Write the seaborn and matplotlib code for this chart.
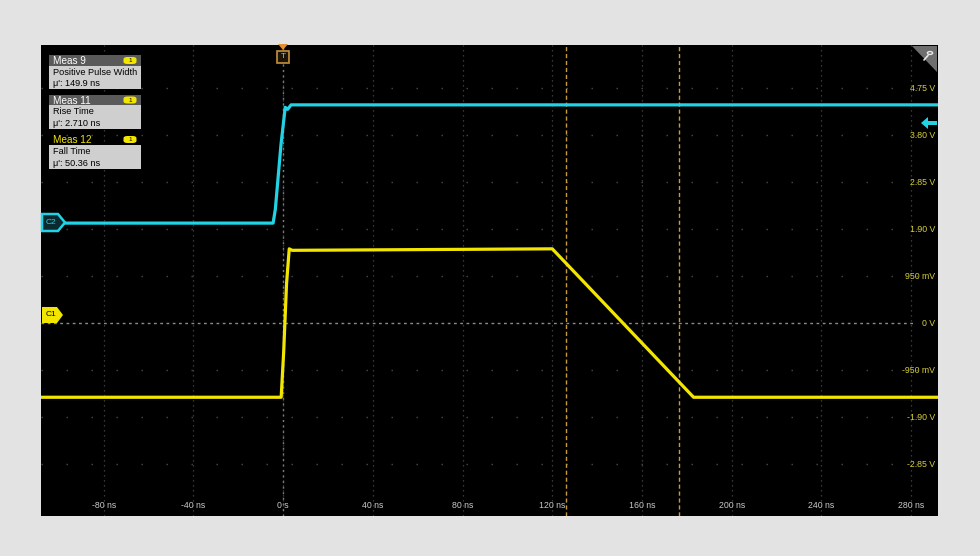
import numpy as np
import pandas as pd
import seaborn as sns
import matplotlib.pyplot as plt
from matplotlib.patches import Rectangle, Polygon, FancyBboxPatch, Circle
from matplotlib.lines import Line2D
import matplotlib.transforms as mtransforms

x_ticks = [-80, -40, 0, 40, 80, 120, 160, 200, 240, 280]
x_labels = ["-80 ns", "-40 ns", "0 s", "40 ns", "80 ns", "120 ns", "160 ns", "200 ns", "240 ns", "280 ns"]
y_ticks = [4.75, 3.80, 2.85, 1.90, 0.95, 0.0, -0.95, -1.90, -2.85]
y_labels = ["4.75 V", "3.80 V", "2.85 V", "1.90 V", "950 mV", "0 V", "-950 mV", "-1.90 V", "-2.85 V"]

# C1 (jaune) : temps en ns, tension en V
c1_t = [-108, -0.9, 0.2, 1.5, 2.7, 4, 120, 183, 292]
c1_v = [-1.50, -1.50, -0.6, 0.8, 1.50, 1.47, 1.50, -1.50, -1.50]
# C2 (cyan)
c2_t = [-98, -4.5, -3.5, -1, 0.9, 2, 3.5, 292]
c2_v = [2.02, 2.02, 2.3, 3.6, 4.36, 4.32, 4.41, 4.41]

cursor_t = [126.2, 176.6]

meas_titles = ["Meas 9", "Meas 11", "Meas 12"]
meas_names = ["Positive Pulse Width", "Rise Time", "Fall Time"]
meas_values = ["\u03bc': 149.9 ns", "\u03bc': 2.710 ns", "\u03bc': 50.36 ns"]

YELLOW = "#f2e600"
CYAN = "#22d3e6"
CURSOR = "#c89a3a"
GRID = "#4a4a4a"

sns.set_style("dark")
plt.rcParams['font.family'] = ['Liberation Sans', 'DejaVu Sans']

W, H = 980, 556
fig = plt.figure(figsize=(W / 100, H / 100), dpi=100)
fig.patch.set_facecolor("#e3e3e3")

ax = fig.add_axes([41 / W, 1 - 516 / H, 897 / W, 471 / H])
ax.set_facecolor("black")
ax.set_xlim(-108, 292)
ax.set_ylim(-3.90, 5.62)
for s in ax.spines.values():
    s.set_visible(False)
ax.set_xticks([])
ax.set_yticks([])
ax.grid(False)

# graticule
for xt in x_ticks:
    ax.axvline(xt, color=GRID, lw=0.9, ls=(0, (1, 3)), zorder=1)
for yt in y_ticks:
    if yt != 0:
        ax.axhline(yt, color=GRID, lw=1.0, ls=(0, (1, 17)), zorder=1)
ax.axhline(0, color="#8a8a8a", lw=1.0, ls=(0, (2, 2.5)), xmax=0.975, zorder=1)
ax.axvline(0, color="#7a7a7a", lw=1.0, ls=(0, (1.5, 2.5)), zorder=1)

# curseurs
for ct in cursor_t:
    ax.axvline(ct, color=CURSOR, lw=1.0, ls=(0, (3, 2)), zorder=2)

# formes d'onde
sns.lineplot(x=c1_t, y=c1_v, ax=ax, color=YELLOW, lw=2.3, errorbar=None, zorder=4)
sns.lineplot(x=c2_t, y=c2_v, ax=ax, color=CYAN, lw=2.3, errorbar=None, zorder=4)

# etiquettes des axes (dans la zone noire)
xtr = mtransforms.blended_transform_factory(ax.transData, ax.transAxes)
for xt, lab in zip(x_ticks, x_labels):
    ax.text(xt, 0.012, lab, transform=xtr, color="#c8c8c8", fontsize=6.3,
            ha="center", va="bottom", zorder=6)
ytr = mtransforms.blended_transform_factory(ax.transAxes, ax.transData)
for yt, lab in zip(y_ticks, y_labels):
    ax.text(0.997, yt, lab, transform=ytr, color="#d8cf3a", fontsize=6.3,
            ha="right", va="center", zorder=6)


def px(x, y):
    return (x / W, 1 - y / H)


def fig_rect(x0, y0, x1, y1, **kw):
    r = Rectangle(px(x0, y1), (x1 - x0) / W, (y1 - y0) / H, transform=fig.transFigure, **kw)
    fig.add_artist(r)


def fig_poly(pts, **kw):
    p = Polygon([px(a, b) for a, b in pts], closed=True, transform=fig.transFigure, **kw)
    fig.add_artist(p)


def badge(xc, yc):
    b = FancyBboxPatch(px(xc - 6.5, yc + 3.5), 13 / W, 7 / H, boxstyle="round,pad=0,rounding_size=0.004",
                       transform=fig.transFigure, facecolor=YELLOW, edgecolor="none", zorder=10)
    fig.add_artist(b)
    fig.text(*px(xc, yc), "1", color="black", fontsize=4.5, ha="center", va="center", zorder=11)


# boites de mesures
headers = [(55, 66), (95, 105), (134, 145)]
bodies = [(66, 89), (105, 129), (145, 169)]
for i in range(3):
    h0, h1 = headers[i]
    b0, b1 = bodies[i]
    if i < 2:
        fig_rect(49, h0, 141, h1, facecolor="#5a5a5a", edgecolor="none", zorder=9)
        tcol = "white"
    else:
        tcol = YELLOW
    fig.text(*px(53, (h0 + h1) / 2 + 0.5), meas_titles[i], color=tcol, fontsize=7.2, ha="left", va="center", zorder=11)
    badge(130, (h0 + h1) / 2)
    fig_rect(49, b0, 141, b1, facecolor="#cfcfcf", edgecolor="none", zorder=9)
    fig.text(*px(53, b0 + 6.5), meas_names[i], color="black", fontsize=6.6, ha="left", va="center", zorder=11)
    fig.text(*px(53, b0 + 18), meas_values[i], color="black", fontsize=6.6, ha="left", va="center", zorder=11)

# marqueurs de voies
fig_poly([(42, 214), (58, 214), (65, 222.5), (58, 231), (42, 231)], facecolor="#0a2a30",
         edgecolor=CYAN, lw=1.8, zorder=9)
fig.text(*px(51, 222.5), "C2", color=CYAN, fontsize=6, ha="center", va="center", zorder=11)
fig_poly([(42, 307), (57, 307), (63, 315), (57, 323), (42, 323)], facecolor=YELLOW,
         edgecolor="none", zorder=9)
fig.text(*px(51, 315), "C1", color="black", fontsize=6, ha="center", va="center", zorder=11)

# declencheur
fig_poly([(278, 44), (288, 44), (283, 50)], facecolor="#e09030", edgecolor="none", zorder=9)
fig_poly([(277, 51), (289, 51), (289, 63), (277, 63)], facecolor="#1a1408",
         edgecolor="#c8903a", lw=1.2, zorder=9)
fig.text(*px(283, 57), "T", color="#e0b060", fontsize=6, ha="center", va="center", zorder=11)

# fleche C2 a droite
fig_poly([(921, 123), (928, 117), (928, 121), (937, 121), (937, 125), (928, 125), (928, 129)],
         facecolor=CYAN, edgecolor="none", zorder=9)

# loupe en haut a droite
fig_poly([(912, 46), (937, 46), (937, 72)], facecolor="#6e6e6e", edgecolor="none", zorder=9)
fig.add_artist(Circle(px(930, 53), 2.6 / W, transform=fig.transFigure, facecolor="none",
                      edgecolor="#e8e8e8", lw=1.0, zorder=10))
fig.add_artist(Line2D([928 / W, 924 / W], [1 - 55.5 / H, 1 - 60 / H], transform=fig.transFigure,
                      color="#e8e8e8", lw=1.2, zorder=10))

fig.savefig("out.png", dpi=100, facecolor=fig.get_facecolor())
